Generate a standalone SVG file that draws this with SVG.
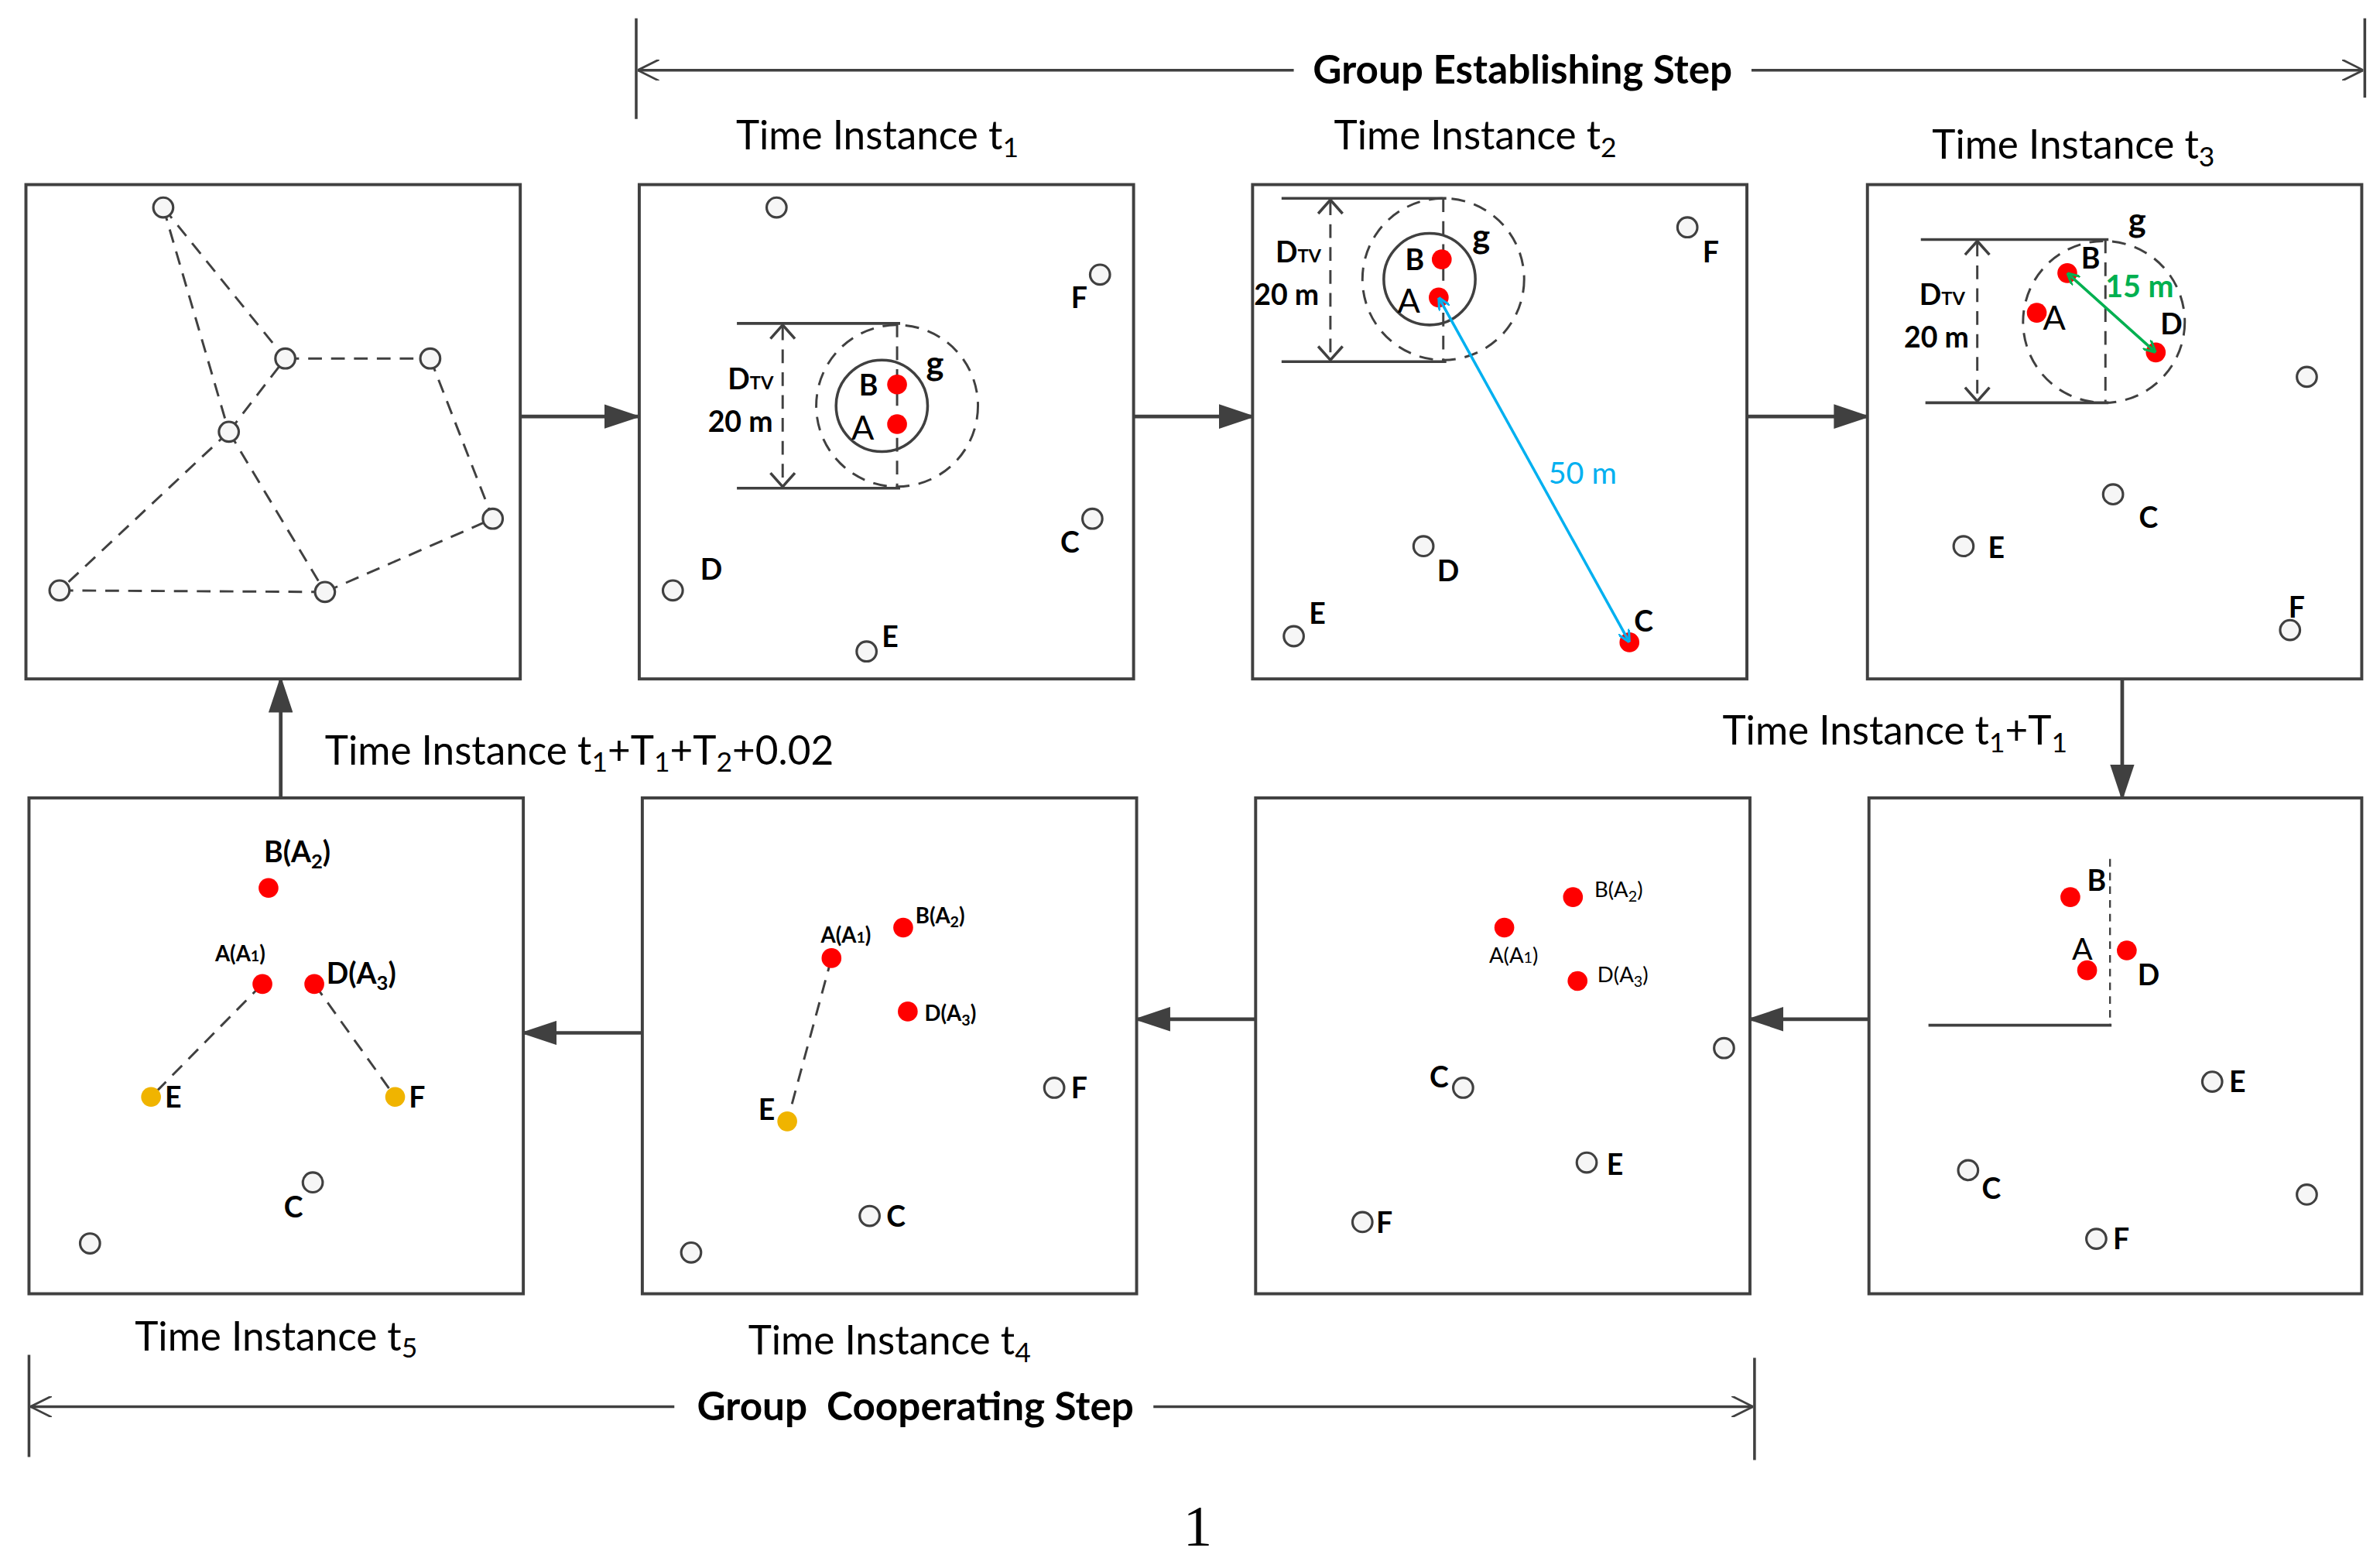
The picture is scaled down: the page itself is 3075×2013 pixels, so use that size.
<svg xmlns="http://www.w3.org/2000/svg" width="3075" height="2013" viewBox="0 0 3075 2013">
<style>
.box{fill:#fff;stroke:#404040;stroke-width:2}
.o{fill:#f6f6f6;stroke:#404040;stroke-width:1.6}
.r{fill:#f00}
.y{fill:#f0b400}
.dl{fill:none;stroke:#404040;stroke-width:1.5;stroke-dasharray:9,6}
.sl{fill:none;stroke:#404040;stroke-width:1.8}
.ar{fill:none;stroke:#404040;stroke-width:2.4}
.t{font-family:Lato,"Open Sans",sans-serif;font-size:26px;fill:#000}
.b{font-family:Lato,"Open Sans",sans-serif;font-weight:bold;fill:#000;font-size:19px}
.h{font-family:Lato,"Open Sans",sans-serif;font-weight:bold;fill:#000;font-size:26px}
.s{font-family:Lato,"Open Sans",sans-serif;fill:#000;font-size:14px}
.a{font-family:Lato,"Open Sans",sans-serif;fill:#000;font-size:22px}
.g{font-family:Lato,"Open Sans",sans-serif;font-weight:bold;fill:#000;font-size:22px}
</style>
<defs>
<marker id="ah" viewBox="0 0 24 16" refX="22" refY="8" markerWidth="24" markerHeight="16" markerUnits="userSpaceOnUse" orient="auto"><path d="M0,0L24,8L0,16z" fill="#404040"/></marker>
<marker id="op" viewBox="0 0 10 10" refX="10" refY="5" markerWidth="14" markerHeight="14" markerUnits="userSpaceOnUse" orient="auto"><path d="M0,0L10,5L0,10" fill="none" stroke="#404040" stroke-width="1"/></marker>
<marker id="bl" viewBox="0 0 10 10" refX="10" refY="5" markerWidth="8" markerHeight="8" markerUnits="userSpaceOnUse" orient="auto-start-reverse"><path d="M0,0L10,5L0,10" fill="none" stroke="#00b0f0" stroke-width="2"/></marker>
<marker id="gr" viewBox="0 0 10 10" refX="10" refY="5" markerWidth="8" markerHeight="8" markerUnits="userSpaceOnUse" orient="auto-start-reverse"><path d="M0,0L10,5L0,10" fill="none" stroke="#00b050" stroke-width="2"/></marker>
</defs>
<rect width="3075" height="2013" fill="#fff"/>
<g transform="scale(1.9712)">
<g id="connectors">
<line class="ar" x1="341" y1="273" x2="418" y2="273" marker-end="url(#ah)"/>
<line class="ar" x1="743" y1="273" x2="821" y2="273" marker-end="url(#ah)"/>
<line class="ar" x1="1145" y1="273" x2="1224" y2="273" marker-end="url(#ah)"/>
<line class="ar" x1="1391" y1="445" x2="1391" y2="523" marker-end="url(#ah)"/>
<line class="ar" x1="1225" y1="668" x2="1147" y2="668" marker-end="url(#ah)"/>
<line class="ar" x1="823" y1="668" x2="745" y2="668" marker-end="url(#ah)"/>
<line class="ar" x1="421" y1="677" x2="343" y2="677" marker-end="url(#ah)"/>
<line class="ar" x1="184" y1="523" x2="184" y2="445" marker-end="url(#ah)"/>
<line class="sl" x1="417" y1="12" x2="417" y2="78"/>
<line class="sl" x1="1550" y1="12" x2="1550" y2="64"/>
<line class="sl" x1="848" y1="46" x2="418" y2="46" marker-end="url(#op)"/>
<line class="sl" x1="1148" y1="46" x2="1549" y2="46" marker-end="url(#op)"/>
<text class="h" x="998" y="55" text-anchor="middle">Group Establishing Step</text>
<line class="sl" x1="19" y1="888" x2="19" y2="955"/>
<line class="sl" x1="1150" y1="890" x2="1150" y2="957"/>
<line class="sl" x1="442" y1="922" x2="20" y2="922" marker-end="url(#op)"/>
<line class="sl" x1="756" y1="922" x2="1149" y2="922" marker-end="url(#op)"/>
<text class="h" x="600" y="931" text-anchor="middle" xml:space="preserve">Group  Cooperating Step</text>
</g>
<text class="t" x="575" y="98" text-anchor="middle">Time Instance t<tspan font-size="18" dy="5">1</tspan></text>
<text class="t" x="967" y="98" text-anchor="middle">Time Instance t<tspan font-size="18" dy="5">2</tspan></text>
<text class="t" x="1359" y="104" text-anchor="middle">Time Instance t<tspan font-size="18" dy="5">3</tspan></text>
<text class="t" x="1129" y="488">Time Instance t<tspan font-size="18" dy="5">1</tspan><tspan dy="-5">+T</tspan><tspan font-size="18" dy="5">1</tspan></text>
<text class="t" x="213" y="501">Time Instance t<tspan font-size="18" dy="5">1</tspan><tspan dy="-5">+T</tspan><tspan font-size="18" dy="5">1</tspan><tspan dy="-5">+T</tspan><tspan font-size="18" dy="5">2</tspan><tspan dy="-5">+0.02</tspan></text>
<text class="t" x="181" y="885" text-anchor="middle">Time Instance t<tspan font-size="18" dy="5">5</tspan></text>
<text class="t" x="583" y="888" text-anchor="middle">Time Instance t<tspan font-size="18" dy="5">4</tspan></text>
<text x="785" y="1013" text-anchor="middle" font-family="Liberation Serif,serif" font-size="38">1</text>

<g id="panel1">
<rect class="box" x="17" y="121" width="324" height="324"/>
<path class="dl" d="M107,136L187,235M107,136L150,283M187,235L282,235M282,235L323,340M150,283L187,235M150,283L39,387M150,283L213,388M39,387L213,388M213,388L323,340"/>
<circle class="o" cx="107" cy="136" r="6.5"/><circle class="o" cx="187" cy="235" r="6.5"/><circle class="o" cx="282" cy="235" r="6.5"/><circle class="o" cx="150" cy="283" r="6.5"/><circle class="o" cx="323" cy="340" r="6.5"/><circle class="o" cx="39" cy="387" r="6.5"/><circle class="o" cx="213" cy="388" r="6.5"/>
</g>

<g id="panel2">
<rect class="box" x="419" y="121" width="324" height="324"/>
<line class="sl" x1="483" y1="212" x2="590" y2="212"/><line class="sl" x1="483" y1="320" x2="590" y2="320"/>
<line class="dl" x1="513" y1="214" x2="513" y2="318"/>
<path class="sl" d="M505,222L513,213L521,222M505,310L513,319L521,310"/>
<line class="dl" x1="588" y1="212" x2="588" y2="320"/>
<circle class="sl" cx="578" cy="266" r="30"/>
<circle class="dl" cx="588" cy="266" r="53"/>
<circle class="r" cx="588" cy="252" r="6.5"/><circle class="r" cx="588" cy="278" r="6.5"/>
<text class="b" x="563" y="259">B</text><text class="a" x="558" y="288">A</text><text class="g" x="607" y="246">g</text>
<text class="b" x="477" y="255">D<tspan font-size="12">TV</tspan></text><text class="b" x="464" y="283">20 m</text>
<circle class="o" cx="509" cy="136" r="6.5"/><circle class="o" cx="721" cy="180" r="6.5"/><circle class="o" cx="716" cy="340" r="6.5"/><circle class="o" cx="441" cy="387" r="6.5"/><circle class="o" cx="568" cy="427" r="6.5"/>
<text class="b" x="702" y="202">F</text><text class="b" x="695" y="362">C</text><text class="b" x="459" y="380">D</text><text class="b" x="578" y="424">E</text>
</g>

<g id="panel3">
<rect class="box" x="821" y="121" width="324" height="324"/>
<line class="sl" x1="840" y1="130" x2="948" y2="130"/><line class="sl" x1="840" y1="237" x2="948" y2="237"/>
<line class="dl" x1="872" y1="132" x2="872" y2="235"/>
<path class="sl" d="M864,140L872,131L880,140M864,227L872,236L880,227"/>
<line class="dl" x1="946" y1="130" x2="946" y2="237"/>
<circle class="sl" cx="937" cy="183" r="30"/>
<circle class="dl" cx="946" cy="183" r="53"/>
<circle class="r" cx="945" cy="170" r="6.5"/><circle class="r" cx="943" cy="195" r="6.5"/>
<text class="b" x="921" y="177">B</text><text class="a" x="916" y="205">A</text><text class="g" x="965" y="163">g</text>
<text class="b" x="836" y="172">D<tspan font-size="12">TV</tspan></text><text class="b" x="822" y="200">20 m</text>
<circle class="r" cx="1068" cy="421" r="6.5"/>
<line x1="943" y1="195" x2="1068" y2="421" stroke="#00b0f0" stroke-width="1.8" marker-start="url(#bl)" marker-end="url(#bl)"/>
<text x="1015" y="317" font-family="Lato,sans-serif" font-size="20" fill="#00b0f0">50 m</text>
<circle class="o" cx="1106" cy="149" r="6.5"/><circle class="o" cx="933" cy="358" r="6.5"/><circle class="o" cx="848" cy="417" r="6.5"/>
<text class="b" x="1116" y="172">F</text><text class="b" x="942" y="381">D</text><text class="b" x="858" y="409">E</text><text class="b" x="1071" y="414">C</text>
</g>

<g id="panel4">
<rect class="box" x="1224" y="121" width="324" height="324"/>
<line class="sl" x1="1259" y1="157" x2="1382" y2="157"/><line class="sl" x1="1262" y1="264" x2="1382" y2="264"/>
<line class="dl" x1="1296" y1="159" x2="1296" y2="262"/>
<path class="sl" d="M1288,167L1296,158L1304,167M1288,254L1296,263L1304,254"/>
<line class="dl" x1="1380" y1="157" x2="1380" y2="264"/>
<circle class="dl" cx="1379" cy="211" r="53"/>
<circle class="r" cx="1355" cy="179" r="6.5"/><circle class="r" cx="1335" cy="205" r="6.5"/><circle class="r" cx="1413" cy="231" r="6.5"/>
<line x1="1355" y1="179" x2="1413" y2="231" stroke="#00b050" stroke-width="1.8" marker-start="url(#gr)" marker-end="url(#gr)"/>
<text x="1380" y="195" font-family="Lato,sans-serif" font-size="20" font-weight="bold" fill="#00b050">15 m</text>
<text class="b" x="1364" y="176">B</text><text class="a" x="1339" y="216">A</text><text class="b" x="1416" y="219">D</text><text class="g" x="1395" y="152">g</text>
<text class="b" x="1258" y="200">D<tspan font-size="12">TV</tspan></text><text class="b" x="1248" y="228">20 m</text>
<circle class="o" cx="1512" cy="247" r="6.5"/><circle class="o" cx="1385" cy="324" r="6.5"/><circle class="o" cx="1287" cy="358" r="6.5"/><circle class="o" cx="1501" cy="413" r="6.5"/>
<text class="b" x="1402" y="346">C</text><text class="b" x="1303" y="366">E</text><text class="b" x="1500" y="405">F</text>
</g>

<g id="panel8">
<rect class="box" x="1225" y="523" width="323" height="325"/>
<line class="dl" x1="1383" y1="563" x2="1383" y2="672" style="stroke-dasharray:5,4;stroke-width:1.2"/>
<line class="sl" x1="1264" y1="672" x2="1384" y2="672"/>
<circle class="r" cx="1357" cy="588" r="6.5"/><circle class="r" cx="1368" cy="636" r="6.5"/><circle class="r" cx="1394" cy="623" r="6.5"/>
<text class="b" x="1368" y="584">B</text><text class="a" x="1358" y="629" style="font-size:20px">A</text><text class="b" x="1401" y="646">D</text>
<circle class="o" cx="1450" cy="709" r="6.5"/><circle class="o" cx="1290" cy="767" r="6.5"/><circle class="o" cx="1512" cy="783" r="6.5"/><circle class="o" cx="1374" cy="812" r="6.5"/>
<text class="b" x="1461" y="716">E</text><text class="b" x="1299" y="786">C</text><text class="b" x="1385" y="819">F</text>
</g>

<g id="panel7">
<rect class="box" x="823" y="523" width="324" height="325"/>
<circle class="r" cx="1031" cy="588" r="6.5"/><circle class="r" cx="986" cy="608" r="6.5"/><circle class="r" cx="1034" cy="643" r="6.5"/>
<text class="s" x="1045" y="588">B(A<tspan font-size="10" dy="3">2</tspan><tspan dy="-3">)</tspan></text>
<text class="s" x="976" y="631">A(A<tspan font-size="10">1</tspan>)</text>
<text class="s" x="1047" y="644">D(A<tspan font-size="10" dy="3">3</tspan><tspan dy="-3">)</tspan></text>
<circle class="o" cx="1130" cy="687" r="6.5"/><circle class="o" cx="959" cy="713" r="6.5"/><circle class="o" cx="1040" cy="762" r="6.5"/><circle class="o" cx="893" cy="801" r="6.5"/>
<text class="b" x="937" y="713">C</text><text class="b" x="1053" y="770">E</text><text class="b" x="902" y="808">F</text>
</g>

<g id="panel6">
<rect class="box" x="421" y="523" width="324" height="325"/>
<line class="dl" x1="545" y1="628" x2="516" y2="735"/>
<circle class="r" cx="545" cy="628" r="6.5"/><circle class="r" cx="592" cy="608" r="6.5"/><circle class="r" cx="595" cy="663" r="6.5"/><circle class="y" cx="516" cy="735" r="6.5"/>
<text class="s" x="538" y="618" font-weight="bold">A(A<tspan font-size="10">1</tspan>)</text>
<text class="s" x="600" y="605" font-weight="bold">B(A<tspan font-size="10" dy="3">2</tspan><tspan dy="-3">)</tspan></text>
<text class="s" x="606" y="669" font-weight="bold">D(A<tspan font-size="10" dy="3">3</tspan><tspan dy="-3">)</tspan></text>
<text class="b" x="497" y="734">E</text>
<circle class="o" cx="691" cy="713" r="6.5"/><circle class="o" cx="570" cy="797" r="6.5"/><circle class="o" cx="453" cy="821" r="6.5"/>
<text class="b" x="702" y="720">F</text><text class="b" x="581" y="804">C</text>
</g>

<g id="panel5">
<rect class="box" x="19" y="523" width="324" height="325"/>
<line class="dl" x1="172" y1="645" x2="99" y2="719"/><line class="dl" x1="206" y1="645" x2="259" y2="719"/>
<circle class="r" cx="176" cy="582" r="6.5"/><circle class="r" cx="172" cy="645" r="6.5"/><circle class="r" cx="206" cy="645" r="6.5"/>
<circle class="y" cx="99" cy="719" r="6.5"/><circle class="y" cx="259" cy="719" r="6.5"/>
<text class="b" x="173" y="565">B(A<tspan font-size="13" dy="4">2</tspan><tspan dy="-4">)</tspan></text>
<text class="s" x="141" y="630" font-weight="bold">A(A<tspan font-size="10">1</tspan>)</text>
<text class="b" x="214" y="645">D(A<tspan font-size="13" dy="4">3</tspan><tspan dy="-4">)</tspan></text>
<text class="b" x="108" y="726">E</text><text class="b" x="268" y="726">F</text>
<circle class="o" cx="205" cy="775" r="6.5"/><circle class="o" cx="59" cy="815" r="6.5"/>
<text class="b" x="186" y="798">C</text>
</g>
</g>
</svg>
